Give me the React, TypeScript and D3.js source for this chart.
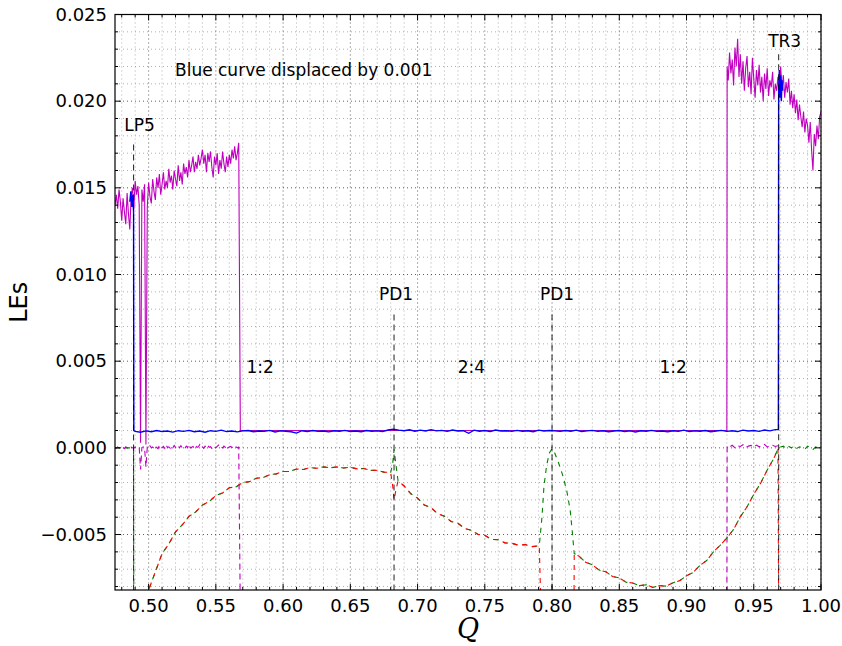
import React from "react";
import * as d3 from "d3";

type P = [number, number];

// ---- data (LE values in units of 1e-3) ----
const magentaLeftStart = 0.475;
const magentaLeftStep = 0.001;
const magentaLeft = [
  14.0, 14.6, 13.8, 14.9, 14.2, 13.1, 14.4, 13.6, 12.9, 14.7,
  13.5, 12.6, 14.5, 15.0, 13.8, 15.4, 14.6, 15.1, 14.0, 0.3,
  14.9, 14.2, 15.2, 0.2, 13.9, 15.3, 14.5, 14.1, 15.5, 14.8,
  14.3, 15.6, 15.0, 15.8, 14.6, 15.2, 15.9, 14.9, 15.4, 15.0,
  16.1, 15.3, 15.7, 14.9, 16.0, 15.5, 15.1, 16.3, 15.4, 15.9,
  15.2, 16.4, 15.8, 16.2, 15.6, 16.6, 15.9, 16.3, 16.8, 15.9,
  16.5, 16.1, 16.9, 16.3, 16.7, 17.2, 16.4, 16.9, 15.9, 17.0,
  16.5, 17.1, 16.2, 15.6, 16.8, 16.3, 17.0, 15.8, 16.6, 16.1,
  17.1, 16.4, 15.9, 16.8, 16.2, 16.9, 16.4, 17.2, 16.7, 17.4,
  16.6, 17.0, 17.6,
];
const magentaRightStart = 0.931;
const magentaRightStep = 0.001;
const magentaRight = [
  21.2, 22.8, 21.6, 22.4, 20.9, 23.1, 22.0, 23.6, 21.4, 22.7,
  21.0, 22.3, 20.6, 21.9, 22.6, 20.8, 21.7, 20.4, 22.5, 21.3,
  20.2, 21.8, 20.9, 22.1, 20.5, 21.4, 20.0, 21.6, 20.7, 21.9,
  20.3, 21.2, 20.8, 21.7, 20.1, 21.0, 20.6, 21.4, 20.3, 22.0,
  20.7, 21.5, 20.2, 21.1, 20.5, 21.3, 19.8, 20.6, 19.6, 20.4,
  19.3, 20.1, 18.9, 19.8, 19.1, 18.5, 19.4, 18.2, 19.0, 18.6,
  17.6, 18.8, 17.2, 16.0, 18.1, 17.4, 18.6, 17.8, 19.1, 19.4,
];
const magentaPlateau: P[] = [[0.5682, 1.0], [0.93, 1.0], [0.9302, 22.0]];

const magentaZeroLeft = [
  0.02, -0.03, 0.05, 0.0, -0.05, 0.03, 0.0, -0.04, 0.06, 0.0,
  0.03, -0.02, 0.04, 0.0, -0.03, 0.05, 0.01, -0.02, 0.03, -1.25,
  0.02, 0.06, -0.02, -1.1, 0.04, -0.02, 0.12, 0.0, 0.05, -0.04,
  0.1, 0.02, -0.05, 0.15, 0.03, 0.0, 0.08, -0.03, 0.18, 0.02,
  0.06, -0.02, 0.1, 0.0, 0.14, 0.03, -0.04, 0.09, 0.01, 0.12,
  0.0, 0.05, -0.03, 0.1, 0.02, 0.2, 0.0, 0.04, 0.08, -0.02,
  0.12, 0.03, 0.06, 0.18, 0.0, 0.05, -0.03, 0.1, 0.02, 0.14,
  0.03, 0.07, -0.02, 0.11, 0.04, 0.0, 0.09, 0.16, 0.02, 0.06,
  -0.01, 0.1, 0.03, 0.13, 0.0, 0.05, 0.08, 0.02, 0.11, 0.03,
  0.06, 0.0, 0.04,
];
const magentaZeroRightStart = 0.932;
const magentaZeroRight = [
  0.05, 0.15, 0.0, 0.12, 0.08, 0.18, 0.02, 0.1, 0.14, 0.04,
  0.16, 0.06, 0.12, 0.2, 0.05, 0.1, 0.15, 0.08, 0.12,
];

const blueLP5: P[] = [[0.486, 14.2], [0.4868, 14.8], [0.4875, 13.9], [0.4882, 14.6], [0.4888, 13.6], [0.489, 1.0]];
const blueFlatStart = 0.49;
const blueFlatStep = 0.004;
const blueFlat = [
  0.95, 0.9, 0.98, 0.93, 1.0, 0.94, 0.97, 0.91, 0.99, 0.95,
  1.01, 0.93, 0.97, 0.9, 0.99, 0.95, 1.02, 0.94, 0.97, 0.92,
  0.98, 1.0, 0.93, 0.97, 0.95, 1.01, 0.92, 0.98, 0.96, 0.93,
  0.85, 0.99, 0.94, 1.0, 0.95, 0.97, 0.92, 0.99, 0.96, 1.01,
  0.94, 0.97, 0.93, 1.0, 0.96, 0.98, 0.94, 1.03, 1.08, 1.02,
  0.99, 1.04, 0.96, 1.02, 0.97, 1.05, 0.98, 1.01, 0.95, 1.03,
  0.97, 0.99, 0.84, 1.02, 0.96, 1.0, 0.94, 1.03, 0.97, 0.99,
  0.95, 1.01, 0.96, 0.99, 0.93, 1.02, 0.97, 1.0, 0.98, 0.95,
  1.0, 0.96, 1.02, 0.94, 0.98, 1.01, 0.95, 0.99, 0.93, 0.97,
  1.0, 0.94, 0.98, 0.92, 0.99, 0.96, 1.01, 0.95, 0.97, 0.93,
  0.99, 0.95, 1.02, 0.94, 0.98, 0.96, 1.0, 0.93, 0.97, 1.01,
  0.95, 0.99, 0.94, 1.02, 0.97, 1.0, 0.95, 1.03, 0.98, 1.05,
];
const blueTR3: P[] = [[0.968, 1.05], [0.9683, 1.1], [0.9685, 20.5], [0.969, 21.8], [0.9695, 20.2], [0.97, 21.5], [0.9705, 20.0], [0.971, 21.2], [0.9715, 20.6]];

const lowerA: P[] = [
  [0.4985, -9.0], [0.5, -8.2], [0.505, -7.15], [0.51, -6.1], [0.515, -5.55], [0.52, -4.85],
  [0.525, -4.45], [0.53, -3.95], [0.535, -3.7], [0.54, -3.3], [0.545, -3.1], [0.55, -2.75],
  [0.555, -2.6], [0.56, -2.3], [0.565, -2.25], [0.57, -2.0], [0.575, -1.95], [0.58, -1.75],
  [0.585, -1.72], [0.59, -1.55], [0.595, -1.5], [0.6, -1.36], [0.605, -1.36], [0.61, -1.22],
  [0.615, -1.25], [0.62, -1.14], [0.625, -1.18], [0.63, -1.1], [0.635, -1.15], [0.64, -1.1],
  [0.645, -1.16], [0.65, -1.12], [0.655, -1.21], [0.66, -1.19], [0.665, -1.3], [0.67, -1.29],
  [0.675, -1.4], [0.68, -1.42],
];
const lowerB: P[] = [
  [0.6855, -1.9], [0.69, -2.2], [0.695, -2.65], [0.7, -2.9], [0.705, -3.3], [0.71, -3.45],
  [0.715, -3.8], [0.72, -3.95], [0.725, -4.25], [0.73, -4.35], [0.735, -4.65], [0.74, -4.75],
  [0.745, -5.0], [0.75, -5.05], [0.755, -5.28], [0.76, -5.3], [0.765, -5.48], [0.77, -5.5],
  [0.775, -5.62], [0.78, -5.58], [0.785, -5.7], [0.7905, -5.65],
];
const lowerC: P[] = [
  [0.8165, -6.1], [0.82, -6.25], [0.825, -6.6], [0.83, -6.75], [0.835, -7.05], [0.84, -7.15],
  [0.845, -7.42], [0.85, -7.5], [0.855, -7.75], [0.86, -7.8], [0.865, -7.95], [0.87, -7.9],
  [0.875, -8.05], [0.88, -7.95], [0.885, -7.98], [0.89, -7.78], [0.895, -7.66], [0.9, -7.38],
  [0.905, -7.18], [0.91, -6.78], [0.915, -6.5], [0.92, -6.0], [0.925, -5.62], [0.93, -5.2],
  [0.935, -4.7], [0.94, -3.98], [0.945, -3.4], [0.95, -2.68], [0.955, -2.05], [0.96, -1.28],
  [0.965, -0.6], [0.968, -0.05],
];
const greenStart: P[] = [[0.475, 0.0], [0.4888, 0.0], [0.489, -9.5], [0.4985, -9.5]];
const greenSpike1: P[] = [[0.6815, -0.9], [0.6825, -0.1], [0.6838, -0.9]];
const greenSpike2: P[] = [
  [0.7925, -4.0], [0.794, -2.2], [0.796, -1.0], [0.798, -0.3], [0.8, -0.05], [0.802, -0.3],
  [0.805, -0.9], [0.808, -1.6], [0.811, -2.5], [0.8135, -3.6], [0.815, -4.8],
];
const greenZeroRightStart = 0.97;
const greenZeroRight = [
  0.05, 0.1, -0.05, 0.08, 0.0, 0.12, -0.03, 0.06, 0.0, -0.08,
  0.1, 0.02, -0.1, 0.05, 0.0, -0.06,
];
const redDip1: P[] = [[0.6815, -2.2], [0.6825, -3.0], [0.684, -2.4]];
const redGap2: P[] = [[0.7918, -9.5], [0.8163, -9.5]];
const redEnd: P[] = [[0.9685, -9.5]];

const markerQ = [0.4888, 0.6825, 0.8, 0.9685];
const markerTop = [17.5, 7.7, 7.7, 22.7];
const markerLabels = ["LP5", "PD1", "PD1", "TR3"];
const regionQ = [0.583, 0.74, 0.89];
const regionLabels = ["1:2", "2:4", "1:2"];
const xTicks = [0.5, 0.55, 0.6, 0.65, 0.7, 0.75, 0.8, 0.85, 0.9, 0.95, 1.0];
const yTicks = [-5, 0, 5, 10, 15, 20, 25];

const seq = (start: number, step: number, vals: number[]): P[] =>
  vals.map((v, i) => [start + i * step, v] as P);

export default function App() {
  const W = 842, H = 646;
  const L = 115, R = 821, T = 14.5, B = 590;
  const x = d3.scaleLinear().domain([0.475, 1.0]).range([L, R]);
  const y = d3.scaleLinear().domain([-8.2, 25]).range([B, T]);
  const line = d3.line<P>().x((d) => x(d[0])).y((d) => y(d[1]));

  const magentaSolid = [...seq(magentaLeftStart, magentaLeftStep, magentaLeft), ...magentaPlateau, ...seq(magentaRightStart, magentaRightStep, magentaRight)];
  const blue = [...blueLP5, ...seq(blueFlatStart, blueFlatStep, blueFlat), ...blueTR3];
  const magDashL = [...seq(magentaLeftStart, magentaLeftStep, magentaZeroLeft), [0.5682, -9.5] as P];
  const magDashR = [[0.93, -9.5] as P, [0.9302, 0.1] as P, ...seq(magentaZeroRightStart, 0.002, magentaZeroRight)];
  const green = [...greenStart, ...lowerA, ...greenSpike1, ...lowerB, ...greenSpike2, ...lowerC, ...seq(greenZeroRightStart, 0.002, greenZeroRight)];
  const red = [...lowerA, ...redDip1, ...lowerB, ...redGap2, ...lowerC, ...redEnd];

  const minorX = d3.range(48, 100).map((v) => v / 100).filter((v) => Math.round(v * 100) % 5 !== 0);
  const minorY = d3.range(-8, 26).filter((v) => v % 5 !== 0);
  const fmtY = (v: number) => d3.format(".3f")(v / 1000);
  const font = "DejaVu Sans, sans-serif";
  const labelDx = [6, 2, 5, 6];
  const labelDy = [-14, -14, -14, -7];

  return (
    <svg width={W} height={H} style={{ position: "absolute", left: 0, top: 0 }} fontFamily={font}>
      <rect x={0} y={0} width={W} height={H} fill="#fff" />
      <defs>
        <clipPath id="plot">
          <rect x={L} y={T} width={R - L} height={B - T} />
        </clipPath>
      </defs>
      {/* minor grid */}
      <g stroke="#9a9a9a" strokeWidth={0.8} strokeDasharray="1,3">
        {minorX.map((v) => (
          <line key={"mx" + v} x1={x(v)} x2={x(v)} y1={T} y2={B} />
        ))}
        {minorY.map((v) => (
          <line key={"my" + v} x1={L} x2={R} y1={y(v)} y2={y(v)} />
        ))}
      </g>
      {/* major grid */}
      <g stroke="#333" strokeWidth={0.8} strokeDasharray="1,3">
        {xTicks.map((v) => (
          <line key={"gx" + v} x1={x(v)} x2={x(v)} y1={T} y2={B} />
        ))}
        {yTicks.map((v) => (
          <line key={"gy" + v} x1={L} x2={R} y1={y(v)} y2={y(v)} />
        ))}
      </g>
      <g clipPath="url(#plot)" fill="none">
        <path d={line(magentaSolid) || ""} stroke="#bf00bf" strokeWidth={1.1} />
        <path d={line(blue) || ""} stroke="#0000ff" strokeWidth={1.4} />
        <path d={line(magDashL) || ""} stroke="#bf00bf" strokeWidth={1.1} strokeDasharray="6,4" />
        <path d={line(magDashR) || ""} stroke="#bf00bf" strokeWidth={1.1} strokeDasharray="6,4" />
        <path d={line(green) || ""} stroke="#008000" strokeWidth={1.1} strokeDasharray="5,5" />
        <path d={line(red) || ""} stroke="#ff0000" strokeWidth={1.1} strokeDasharray="5,5" strokeDashoffset={3} />
        {markerQ.map((q, i) => (
          <line key={"mk" + i} x1={x(q)} x2={x(q)} y1={y(markerTop[i])} y2={B} stroke="#000" strokeWidth={1.1} strokeDasharray="6,4" opacity={0.8} />
        ))}
      </g>
      {/* annotations */}
      {markerQ.map((q, i) => (
        <text key={"ml" + i} x={x(q) + labelDx[i]} y={y(markerTop[i]) + labelDy[i]} fontSize={17} textAnchor="middle">
          {markerLabels[i]}
        </text>
      ))}
      {regionQ.map((q, i) => (
        <text key={"rl" + i} x={x(q)} y={373} fontSize={17} textAnchor="middle">
          {regionLabels[i]}
        </text>
      ))}
      <text x={175} y={76} fontSize={17}>Blue curve displaced by 0.001</text>
      {/* frame */}
      <rect x={L} y={T} width={R - L} height={B - T} fill="none" stroke="#000" strokeWidth={1.2} />
      {/* ticks */}
      <g stroke="#000" strokeWidth={1}>
        {xTicks.map((v) => (
          <g key={"tx" + v}>
            <line x1={x(v)} x2={x(v)} y1={B} y2={B - 6} />
            <line x1={x(v)} x2={x(v)} y1={T} y2={T + 6} />
          </g>
        ))}
        {minorX.map((v) => (
          <g key={"tmx" + v}>
            <line x1={x(v)} x2={x(v)} y1={B} y2={B - 3} />
            <line x1={x(v)} x2={x(v)} y1={T} y2={T + 3} />
          </g>
        ))}
        {yTicks.map((v) => (
          <g key={"ty" + v}>
            <line x1={L} x2={L + 6} y1={y(v)} y2={y(v)} />
            <line x1={R} x2={R - 6} y1={y(v)} y2={y(v)} />
          </g>
        ))}
        {minorY.map((v) => (
          <g key={"tmy" + v}>
            <line x1={L} x2={L + 3} y1={y(v)} y2={y(v)} />
            <line x1={R} x2={R - 3} y1={y(v)} y2={y(v)} />
          </g>
        ))}
      </g>
      {xTicks.map((v) => (
        <text key={"xl" + v} x={x(v)} y={612} fontSize={18} textAnchor="middle">
          {d3.format(".2f")(v)}
        </text>
      ))}
      {yTicks.map((v) => (
        <text key={"yl" + v} x={L - 8} y={y(v)} dy="0.35em" fontSize={18} textAnchor="end">
          {fmtY(v)}
        </text>
      ))}
      <text transform={`translate(27,${(T + B) / 2}) rotate(-90)`} fontSize={24} textAnchor="middle">
        LEs
      </text>
      <text x={(L + R) / 2} y={638} fontSize={27} fontStyle="italic" fontFamily="DejaVu Serif, serif" textAnchor="middle">
        Q
      </text>
    </svg>
  );
}
